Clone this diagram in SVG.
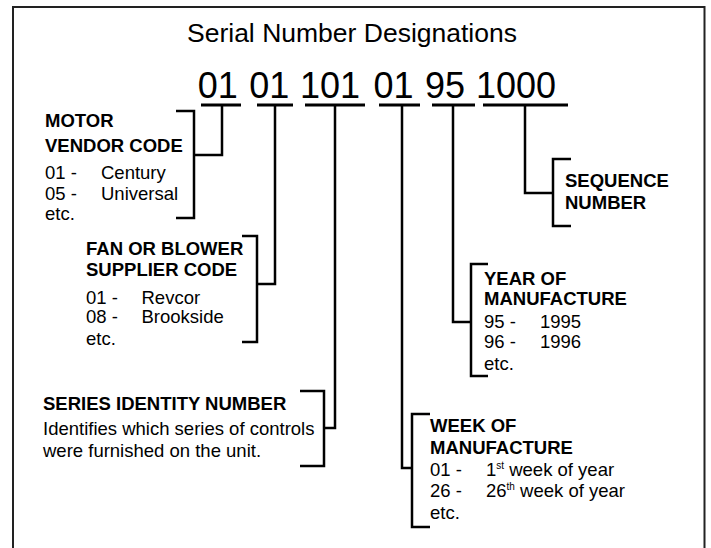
<svg xmlns="http://www.w3.org/2000/svg" width="711" height="548" viewBox="0 0 711 548">
<style>
text{font-family:"Liberation Sans",Arial,sans-serif;fill:#000}
.t{font-size:26px}
.n{font-size:36px}
.h{font-size:18.5px;font-weight:bold}
.b{font-size:18.5px}
.sup{font-size:10px}
.ln{fill:none;stroke:#000;stroke-width:2.5}
.ul{fill:none;stroke:#000;stroke-width:3}
</style>
<rect width="711" height="548" fill="#fff"/>
<path d="M13,548 V7 H704.5 V548" fill="none" stroke="#222" stroke-width="2"/>
<g id="title"><text class="t" x="187" y="41.5" textLength="330" lengthAdjust="spacingAndGlyphs">Serial Number Designations</text></g>
<g id="serial">
<text class="n" x="197.8" y="98.3">01</text>
<text class="n" x="249.2" y="98.3">01</text>
<text class="n" x="300" y="98.3">101</text>
<text class="n" x="373.5" y="98.3">01</text>
<text class="n" x="425" y="98.3">95</text>
<text class="n" x="476" y="98.3">1000</text>
<path class="ul" d="M201,105 H241 M257,105 H293 M305,105 H365 M379,105 H420 M432,105 H475 M483,105 H568"/>
</g>
<g id="connectors">
<path class="ln" d="M222,105 V155 H194"/>
<path class="ln" d="M275,105 V284 H257"/>
<path class="ln" d="M335,105 V428 H324"/>
<path class="ln" d="M402,105 V468 H412"/>
<path class="ln" d="M453,105 V322 H471"/>
<path class="ln" d="M525,105 V193 H553"/>
</g>
<g id="motor">
<path class="ln" d="M176,111 H194 V218 H176"/>
<text class="h" x="45" y="127">MOTOR</text>
<text class="h" x="45" y="152">VENDOR CODE</text>
<text class="b" x="45" y="178.5">01 -</text><text class="b" x="101" y="178.5">Century</text>
<text class="b" x="45" y="199.5">05 -</text><text class="b" x="101" y="199.5">Universal</text>
<text class="b" x="45" y="219.5">etc.</text>
</g>
<g id="fan">
<path class="ln" d="M242,236 H257 V342 H242"/>
<text class="h" x="86" y="255">FAN OR BLOWER</text>
<text class="h" x="86" y="276">SUPPLIER CODE</text>
<text class="b" x="86" y="303.5">01 -</text><text class="b" x="141.5" y="303.5">Revcor</text>
<text class="b" x="86" y="323">08 -</text><text class="b" x="141.5" y="323">Brookside</text>
<text class="b" x="86" y="345">etc.</text>
</g>
<g id="series">
<path class="ln" d="M300,391 H324 V466 H300"/>
<text class="h" x="43" y="410">SERIES IDENTITY NUMBER</text>
<text class="b" x="43" y="435">Identifies which series of controls</text>
<text class="b" x="43" y="457">were furnished on the unit.</text>
</g>
<g id="week">
<path class="ln" d="M430,414 H412 V527 H430"/>
<text class="h" x="430" y="432">WEEK OF</text>
<text class="h" x="430" y="454">MANUFACTURE</text>
<text class="b" x="430" y="476">01 -</text><text class="b" x="486" y="476">1<tspan class="sup" dy="-7">st</tspan><tspan dy="7"> week of year</tspan></text>
<text class="b" x="430" y="497">26 -</text><text class="b" x="486" y="497">26<tspan class="sup" dy="-7">th</tspan><tspan dy="7"> week of year</tspan></text>
<text class="b" x="430" y="518.5">etc.</text>
</g>
<g id="year">
<path class="ln" d="M488,264 H471 V376 H488"/>
<text class="h" x="484" y="285">YEAR OF</text>
<text class="h" x="484" y="305">MANUFACTURE</text>
<text class="b" x="484" y="328">95 -</text><text class="b" x="540" y="328">1995</text>
<text class="b" x="484" y="347.5">96 -</text><text class="b" x="540" y="347.5">1996</text>
<text class="b" x="484" y="369.5">etc.</text>
</g>
<g id="sequence">
<path class="ln" d="M571,159 H553 V226 H571"/>
<text class="h" x="565" y="187">SEQUENCE</text>
<text class="h" x="565" y="208.5">NUMBER</text>
</g>
</svg>
